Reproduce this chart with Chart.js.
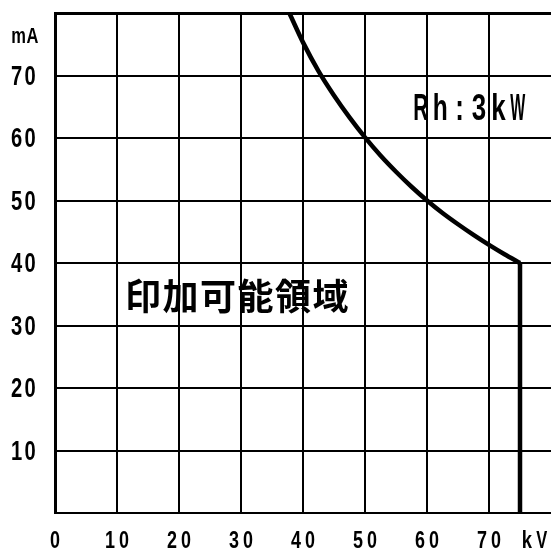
<!DOCTYPE html>
<html>
<head>
<meta charset="utf-8">
<script src="https://cdn.jsdelivr.net/npm/chart.js@4.4.1/dist/chart.umd.min.js"></script>
<style>
  html, body { margin: 0; padding: 0; background: #fff; overflow: hidden; }
  canvas { display: block; }
</style>
</head>
<body>
<canvas id="c" width="551" height="552"></canvas>
<script>
// Rated-power limit curve (Rh: 3 kW) and the maximum-voltage limit
const curveKV = [37.8, 40, 42.5, 45, 47.5, 50, 52.5, 55, 57.5, 60, 62.5, 65, 67.5, 70, 72.5, 75];
const curveMA = [80, 75.3, 70.7, 66.8, 63.3, 60.1, 57.2, 54.6, 52.2, 50, 48, 46.2, 44.5, 42.9, 41.4, 40];
const limitKV = [75, 75];
const limitMA = [40, 0];

// Axis ticks and texts
const xTickValues = [0, 10, 20, 30, 40, 50, 60, 70];
const yTickValues = [10, 20, 30, 40, 50, 60, 70];
const xUnit = 'kV';
const yUnit = 'mA';
const ratingText = 'Rh:3kW';
const regionText = '印加可能領域';

const SANS = '"Liberation Sans", Arial, sans-serif';

function toPoints(xs, ys) { return xs.map((x, i) => ({ x, y: ys[i] })); }

// Draws narrow half-width style glyphs: each character centred at its own x,
// squeezed horizontally so its advance does not exceed maxAdv.
function drawNarrow(ctx, text, firstCx, baseline, size, pitch, maxSx, maxAdv) {
  ctx.save();
  ctx.font = 'bold ' + size + 'px ' + SANS;
  ctx.textAlign = 'center';
  ctx.textBaseline = 'alphabetic';
  [...text].forEach((ch, i) => {
    const adv = ctx.measureText(ch).width || 1;
    const sx = Math.min(maxSx, maxAdv / adv);
    ctx.save();
    ctx.translate(firstCx + i * pitch, baseline);
    ctx.scale(sx, 1);
    ctx.fillText(ch, 0, 0);
    ctx.restore();
  });
  ctx.restore();
}

const textPlugin = {
  id: 'texts',
  afterDraw(chart) {
    const { ctx, scales: { x, y } } = chart;
    ctx.save();
    ctx.fillStyle = '#000';

    // y tick labels, right edge 20px left of the plot
    yTickValues.forEach(v => {
      const s = String(v), pitch = 13.3;
      const right = x.left - 20;
      const first = right - 5 - (s.length - 1) * pitch;
      drawNarrow(ctx, s, first, y.getPixelForValue(v) + 9, 28, pitch, 0.72, 99);
    });
    // x tick labels under each grid line
    xTickValues.forEach(v => {
      const s = String(v), pitch = 14;
      const first = x.getPixelForValue(v) - (s.length - 1) * pitch / 2;
      drawNarrow(ctx, s, first, y.bottom + 35, 23, pitch, 0.78, 99);
    });

    // unit labels
    drawNarrow(ctx, yUnit, 18.5, y.getPixelForValue(75.2), 22, 14, 0.75, 99);
    drawNarrow(ctx, xUnit, x.getPixelForValue(76.1), y.bottom + 35, 23, 15, 0.8, 11);

    // rating label
    drawNarrow(ctx, ratingText, x.getPixelForValue(59.0), y.getPixelForValue(62.9), 36, 19.4, 0.72, 15);

    // region label
    ctx.font = 'bold 36px "Noto Sans CJK JP", sans-serif';
    ctx.textAlign = 'left';
    ctx.textBaseline = 'middle';
    const gx = x.getPixelForValue(11.3), gy = y.getPixelForValue(34.6);
    [...regionText].forEach((ch, i) => ctx.fillText(ch, gx + i * 37.5, gy));
    ctx.restore();
  }
};

function noPadding(s) {
  s.paddingTop = 0; s.paddingBottom = 0; s.paddingLeft = 0; s.paddingRight = 0;
}

new Chart(document.getElementById('c'), {
  type: 'scatter',
  data: {
    datasets: [
      {
        data: toPoints(curveKV, curveMA),
        showLine: true, borderColor: '#000', borderWidth: 4.5,
        pointRadius: 0, tension: 0.3, fill: false, borderJoinStyle: 'round'
      },
      {
        data: toPoints(limitKV, limitMA),
        showLine: true, borderColor: '#000', borderWidth: 4.5,
        pointRadius: 0, tension: 0, fill: false
      }
    ]
  },
  options: {
    responsive: false,
    animation: false,
    events: [],
    layout: { padding: { top: 13, right: 0, left: 0, bottom: 0 } },
    plugins: { legend: { display: false }, tooltip: { enabled: false } },
    scales: {
      x: {
        type: 'linear', min: 0, max: 80,
        afterFit: s => { s.height = 39; noPadding(s); },
        afterBuildTicks: s => { s.ticks = xTickValues.concat([80]).map(v => ({ value: v })); },
        ticks: { display: false },
        grid: {
          drawTicks: false,
          color: c => (c.tick && c.tick.value === 80 ? 'rgba(0,0,0,0)' : '#000'),
          lineWidth: 2
        },
        border: { color: '#000', width: 2 }
      },
      y: {
        type: 'linear', min: 0, max: 80,
        afterFit: s => { s.width = 55; noPadding(s); },
        afterBuildTicks: s => { s.ticks = [0].concat(yTickValues, [80]).map(v => ({ value: v })); },
        ticks: { display: false },
        grid: {
          drawTicks: false,
          color: '#000',
          lineWidth: c => (c.tick && c.tick.value === 80 ? 3 : 2)
        },
        border: { color: '#000', width: 3 }
      }
    }
  },
  plugins: [textPlugin]
});
</script>
</body>
</html>
